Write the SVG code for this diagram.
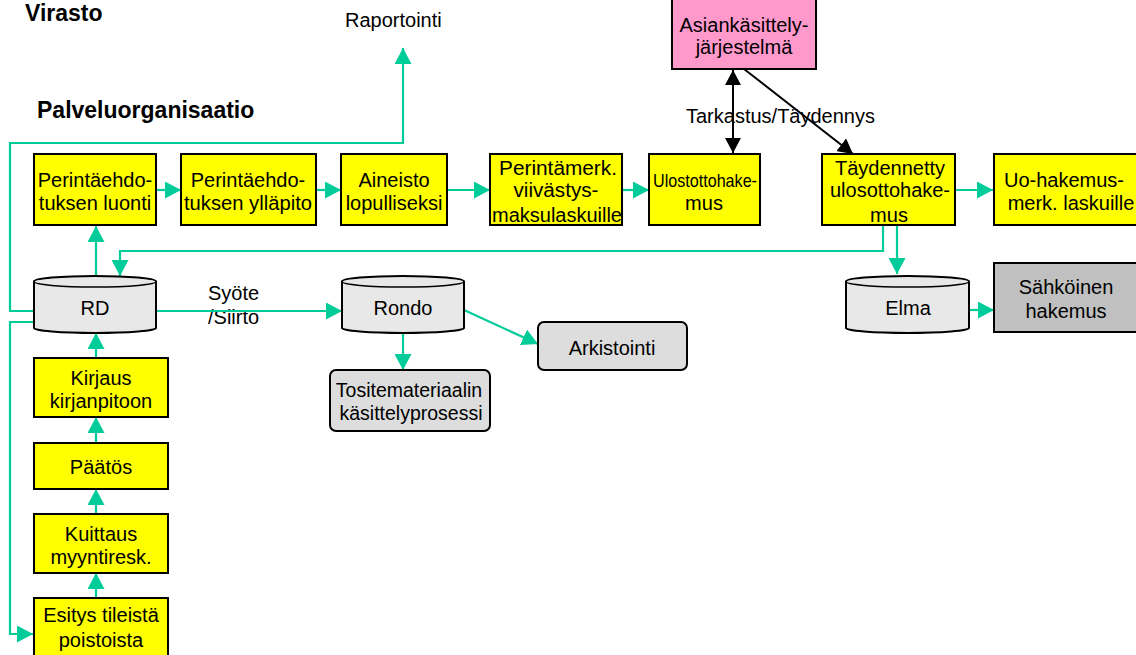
<svg xmlns="http://www.w3.org/2000/svg" width="1136" height="655" viewBox="0 0 1136 655">
<style>
text{font-family:"Liberation Sans",Arial,sans-serif;font-size:20px;fill:#000;text-anchor:middle}
.title{font-weight:bold;font-size:23px;text-anchor:start}
.lbl{text-anchor:start}
.y{fill:#FFFF00;stroke:#000;stroke-width:2}
.pink{fill:#FF99CC;stroke:#000;stroke-width:2}
.gr{fill:#DDDDDD;stroke:#000;stroke-width:2}
.dg{fill:#C0C0C0;stroke:#000;stroke-width:2}
.cyl{fill:#E8E8E8;stroke:#000;stroke-width:2}
.cl{fill:none;stroke:#000;stroke-width:1.5}
.g{fill:none;stroke:#00CC99;stroke-width:2.2;marker-end:url(#ga)}
.b{fill:none;stroke:#000;stroke-width:2;marker-end:url(#ba)}
</style>
<defs>
<marker id="ga" markerUnits="userSpaceOnUse" markerWidth="17" markerHeight="17" refX="16" refY="8.5" orient="auto"><path d="M0,0 L16,8.5 L0,17 Z" fill="#00CC99"/></marker>
<marker id="ba" markerUnits="userSpaceOnUse" markerWidth="16" markerHeight="16" refX="15" refY="8" orient="auto-start-reverse"><path d="M0,0 L15,8 L0,16 Z" fill="#000"/></marker>
</defs>

<text class="title" x="25" y="21">Virasto</text>
<text class="title" x="37" y="118">Palveluorganisaatio</text>
<text class="lbl" x="345" y="27">Raportointi</text>
<text class="lbl" x="686" y="123">Tarkastus/Täydennys</text>
<text class="lbl" x="208" y="300">Syöte</text>
<text class="lbl" x="208" y="324">/Siirto</text>

<g id="connectors">
<path class="g" d="M34,311 H10 V143 H403 V48"/>
<path class="g" d="M34,322 H10 V634 H33"/>
<path class="g" d="M96,276 V226"/>
<path class="g" d="M156,190 H181"/>
<path class="g" d="M316,190 H341"/>
<path class="g" d="M447,190 H490"/>
<path class="g" d="M622,190 H649"/>
<path class="g" d="M955,190 H993"/>
<path class="g" d="M883,225 V251 H120 V276"/>
<path class="g" d="M897,225 V274"/>
<path class="g" d="M156,311 H342"/>
<path class="g" d="M403,333 V370"/>
<path class="g" d="M464,310 L538,344"/>
<path class="g" d="M969,310 H994"/>
<path class="g" d="M96,358 V333"/>
<path class="g" d="M96,443 V417"/>
<path class="g" d="M96,514 V489"/>
<path class="g" d="M96,598 V573"/>
<path class="b" d="M733,70 V153" marker-start="url(#ba)"/>
<path class="b" d="M744,69 L853,154"/>
</g>

<g id="asiankasittely">
<rect class="pink" x="672" y="-2" width="144" height="71"/>
<text x="744" y="32">Asiankäsittely-</text>
<text x="744" y="54">järjestelmä</text>
</g>

<g id="perinta-luonti">
<rect class="y" x="34" y="154" width="122" height="71"/>
<text x="95" y="187">Perintäehdo-</text>
<text x="95" y="210">tuksen luonti</text>
</g>
<g id="perinta-yllapito">
<rect class="y" x="181" y="154" width="135" height="71"/>
<text x="248" y="187">Perintäehdo-</text>
<text x="248" y="210" textLength="128" lengthAdjust="spacingAndGlyphs">tuksen ylläpito</text>
</g>
<g id="aineisto">
<rect class="y" x="341" y="154" width="106" height="71"/>
<text x="394" y="187">Aineisto</text>
<text x="394" y="210">lopulliseksi</text>
</g>
<g id="perintamerk">
<rect class="y" x="490" y="154" width="132" height="71"/>
<text x="558" y="175" textLength="118" lengthAdjust="spacingAndGlyphs">Perintämerk.</text>
<text x="556" y="197" textLength="85" lengthAdjust="spacingAndGlyphs">viivästys-</text>
<text x="557" y="222" textLength="130" lengthAdjust="spacingAndGlyphs">maksulaskuille</text>
</g>
<g id="ulosottohakemus">
<rect class="y" x="649" y="154" width="111" height="71"/>
<text x="705" y="187" style="font-size:19px" textLength="104" lengthAdjust="spacingAndGlyphs">Ulostottohake-</text>
<text x="704" y="210">mus</text>
</g>
<g id="taydennetty">
<rect class="y" x="822" y="154" width="133" height="71"/>
<text x="890" y="175">Täydennetty</text>
<text x="890" y="197">ulosottohake-</text>
<text x="889" y="222">mus</text>
</g>
<g id="uo-hakemus">
<rect class="y" x="994" y="154" width="150" height="71"/>
<text x="1064" y="187">Uo-hakemus-</text>
<text x="1071" y="210">merk. laskuille</text>
</g>

<g id="rd">
<path class="cyl" d="M34,281.5 A61,5.5 0 0 1 156,281.5 V328 A61,5 0 0 1 34,328 Z"/>
<path class="cl" d="M34,281.5 A61,5.5 0 0 0 156,281.5"/>
<text x="95" y="315">RD</text>
</g>
<g id="rondo">
<path class="cyl" d="M342,281.5 A61,5.5 0 0 1 464,281.5 V328 A61,5 0 0 1 342,328 Z"/>
<path class="cl" d="M342,281.5 A61,5.5 0 0 0 464,281.5"/>
<text x="403" y="315">Rondo</text>
</g>
<g id="elma">
<path class="cyl" d="M846,281.5 A61.5,5.5 0 0 1 969,281.5 V328 A61.5,5 0 0 1 846,328 Z"/>
<path class="cl" d="M846,281.5 A61.5,5.5 0 0 0 969,281.5"/>
<text x="908" y="315">Elma</text>
</g>
<g id="sahkoinen">
<rect class="dg" x="994" y="263" width="150" height="69"/>
<text x="1066" y="294">Sähköinen</text>
<text x="1066" y="318">hakemus</text>
</g>
<g id="arkistointi">
<rect class="gr" x="538" y="322" width="149" height="48" rx="6"/>
<text x="612" y="355">Arkistointi</text>
</g>
<g id="tositemateriaali">
<rect class="gr" x="330" y="370" width="160" height="61" rx="6"/>
<text x="409" y="397" style="font-size:19.5px">Tositemateriaalin</text>
<text x="411" y="420" style="font-size:19.5px">käsittelyprosessi</text>
</g>

<g id="kirjaus">
<rect class="y" x="34" y="358" width="134" height="59"/>
<text x="101" y="385">Kirjaus</text>
<text x="101" y="408">kirjanpitoon</text>
</g>
<g id="paatos">
<rect class="y" x="34" y="443" width="134" height="46"/>
<text x="101" y="474">Päätös</text>
</g>
<g id="kuittaus">
<rect class="y" x="34" y="514" width="134" height="59"/>
<text x="101" y="541">Kuittaus</text>
<text x="101" y="564">myyntiresk.</text>
</g>
<g id="esitys">
<rect class="y" x="34" y="598" width="134" height="70"/>
<text x="101" y="622">Esitys tileistä</text>
<text x="101" y="647">poistoista</text>
</g>
</svg>
